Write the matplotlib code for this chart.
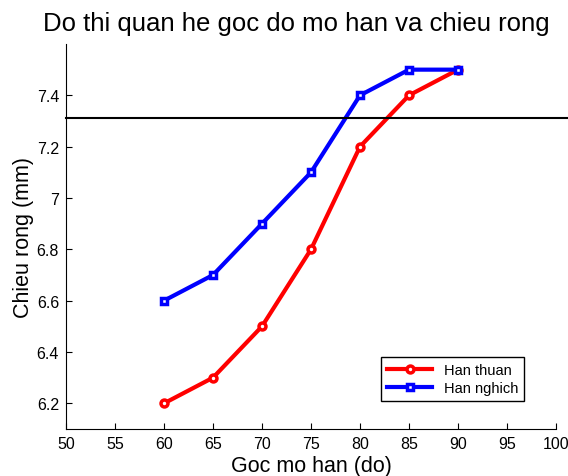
import matplotlib
matplotlib.use("Agg")
import matplotlib.pyplot as plt

# ── data ──────────────────────────────────────────────────────────────
goc = [60, 65, 70, 75, 80, 85, 90]
han_thuan = [6.2, 6.3, 6.5, 6.8, 7.2, 7.4, 7.5]
han_nghich = [6.6, 6.7, 6.9, 7.1, 7.4, 7.5, 7.5]
muc_ngang = 7.31

plt.rcParams["font.family"] = ["Liberation Sans", "DejaVu Sans"]

fig = plt.figure(figsize=(5.68, 4.77), dpi=100)
ax = fig.add_axes([0.1162, 0.0985, 0.8627, 0.8072])

ax.plot(goc, han_thuan, color="red", linewidth=3, marker="o",
        markersize=5, markerfacecolor="white", markeredgewidth=2.5,
        label="Han thuan")
ax.plot(goc, han_nghich, color="blue", linewidth=3, marker="s",
        markersize=4.5, markerfacecolor="white", markeredgewidth=2.5,
        label="Han nghich")
ax.plot([50, 102.4], [muc_ngang, muc_ngang], color="black", linewidth=1.5,
        clip_on=False)

ax.set_xlim(50, 100)
ax.set_ylim(6.1, 7.6)
ax.set_xticks(range(50, 101, 5))
ax.set_yticks([6.2, 6.4, 6.6, 6.8, 7.0, 7.2, 7.4])
ax.set_yticklabels(["6.2", "6.4", "6.6", "6.8", "7", "7.2", "7.4"])
ax.spines["top"].set_visible(False)
ax.spines["right"].set_visible(False)
ax.tick_params(direction="in", length=4, labelsize=11.5, pad=5)

ax.set_title("Do thi quan he goc do mo han va chieu rong", fontsize=18.5,
             pad=10, x=0.47)
ax.set_xlabel("Goc mo han (do)", fontsize=15.5, labelpad=3)
ax.set_ylabel("Chieu rong (mm)", fontsize=15.5, labelpad=2)

leg = ax.legend(loc="lower right", bbox_to_anchor=(0.935, 0.072), fontsize=10.5,
                fancybox=False, framealpha=1, edgecolor="black",
                handlelength=3.1, borderpad=0.4, labelspacing=0.3,
                borderaxespad=0)
leg.get_frame().set_linewidth(1)

fig.savefig("out.png", dpi=100)
